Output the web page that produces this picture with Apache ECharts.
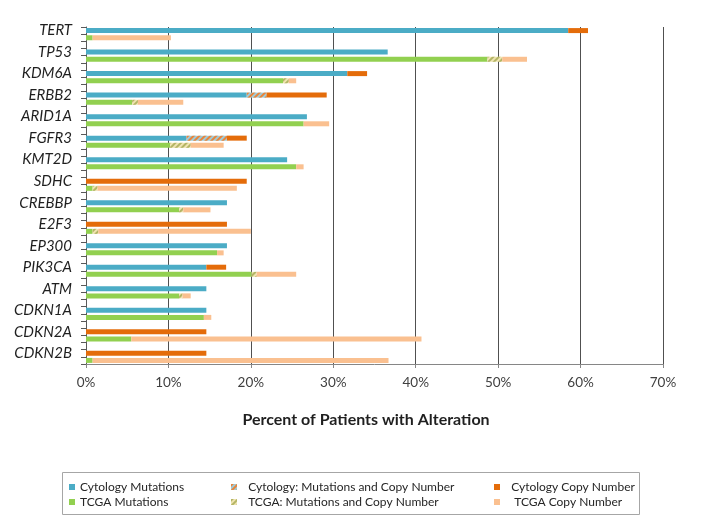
<!DOCTYPE html>
<html><head><meta charset="utf-8">
<script src="https://cdn.jsdelivr.net/npm/echarts@6/dist/echarts.min.js"></script>
<style>html,body{margin:0;padding:0;background:#fff}#c{width:702px;height:524px}</style>
</head><body><div id="c"></div>
<script>
// ---- data (percent of patients) ----
const genes = ['TERT','TP53','KDM6A','ERBB2','ARID1A','FGFR3','KMT2D','SDHC','CREBBP','E2F3','EP300','PIK3CA','ATM','CDKN1A','CDKN2A','CDKN2B'];
const cytoMutations   = [58.5, 36.6, 31.7, 19.5, 26.8, 12.2, 24.4, 0,    17.1, 0,    17.1, 14.6, 14.6, 14.6, 0,    0];
const cytoBoth        = [0,    0,    0,    2.4,  0,    4.9,  0,    0,    0,    0,    0,    0,    0,    0,    0,    0];
const cytoCopyNumber  = [2.4,  0,    2.4,  7.3,  0,    2.4,  0,    19.5, 0,    17.1, 0,    2.4,  0,    0,    14.6, 14.6];
const tcgaMutations   = [0.8,  48.7, 23.9, 5.6,  26.4, 10.2, 25.5, 0.8,  11.3, 0.8,  15.9, 20.1, 11.3, 14.3, 5.5,  0.8];
const tcgaBoth        = [0,    1.8,  0.7,  0.7,  0,    2.5,  0,    0.6,  0.5,  0.7,  0,    0.6,  0.4,  0,    0,    0];
const tcgaCopyNumber  = [9.5,  3.0,  0.9,  5.5,  3.1,  4.0,  0.9,  16.9, 3.3,  18.5, 0.8,  4.8,  1.0,  0.9,  35.2, 35.9];
const seriesNames = ['Cytology Mutations','TCGA Mutations','Cytology: Mutations and Copy Number','TCGA: Mutations and Copy Number','Cytology Copy Number','TCGA Copy Number'];
const xMin = 0, xMax = 70, xStep = 10;
const axisTitle = 'Percent of Patients with Alteration';

// ---- row layout: cytology row, TCGA row, spacer row per gene ----
const rows = [];
genes.forEach((g, i) => { rows.push(g + '|c'); rows.push(g + '|t'); if (i < genes.length - 1) rows.push(g + '|b'); });
function toRows(vals, offset) {
  const out = rows.map(() => '-');
  vals.forEach((v, i) => { out[3 * i + offset] = v; });
  return out;
}
const C = { blue:'#4bacc6', green:'#92d050', orange:'#e46c0a', peach:'#fac090' };
function stripes(col) {
  return { symbol:'rect', symbolSize:1, color:col, dashArrayX:[1,0], dashArrayY:[2,2], rotation:-Math.PI/4 };
}
function bar(name, data, color, decal) {
  const s = { name, type:'bar', stack:'all', barWidth:5, data, itemStyle:{ color }, emphasis:{ disabled:true }, silent:true };
  if (decal) s.itemStyle.decal = decal;
  return s;
}
const series = [
  bar(seriesNames[0], toRows(cytoMutations, 0), C.blue),
  bar(seriesNames[2], toRows(cytoBoth, 0), '#9fcbd6', stripes('#e9843a')),
  bar(seriesNames[4], toRows(cytoCopyNumber, 0), C.orange),
  bar(seriesNames[1], toRows(tcgaMutations, 1), C.green),
  bar(seriesNames[3], toRows(tcgaBoth, 1), '#efe3b0', stripes('#b3b565')),
  bar(seriesNames[5], toRows(tcgaCopyNumber, 1), C.peach)
];
function leg(name, left, top, prefix) {
  return { data:[name], left, top, orient:'vertical', icon:'rect', itemWidth:6, itemHeight:6, padding:0,
    selectedMode:false, formatter: (n) => (prefix || '') + n,
    textStyle:{ fontFamily:'Lato', fontSize:12, color:'#262626', lineHeight:14 } };
}
const chart = echarts.init(document.getElementById('c'), null, { renderer:'canvas' });
chart.setOption({
  animation:false,
  backgroundColor:'#fff',
  grid:{ left:86, right:39, top:27, bottom:160, containLabel:false },
  xAxis:{ type:'value', min:xMin, max:xMax, interval:xStep,
    axisLine:{ show:true, lineStyle:{ color:'#868686' } },
    axisTick:{ show:true, length:4, lineStyle:{ color:'#868686' } },
    splitLine:{ show:true, lineStyle:{ color:'#505050', width:1 } },
    axisLabel:{ formatter:'{value}%', fontFamily:'Lato', fontSize:13.5, color:'#404040', margin:12 } },
  yAxis:{ type:'category', inverse:true, data:rows,
    axisLine:{ show:true, lineStyle:{ color:'#595959' } },
    axisTick:{ show:true, interval:0, length:5, lineStyle:{ color:'#595959' } },
    axisLabel:{ interval:0, margin:14, fontFamily:'Lato', fontStyle:'italic', fontSize:15, color:'#1f1f1f',
      formatter:(v, i) => (i % 3 === 0 ? genes[i / 3] : '') } },
  legend:[
    leg(seriesNames[0], 69, 480), leg(seriesNames[1], 69, 495),
    leg(seriesNames[2], 231, 480, '  '), leg(seriesNames[3], 231, 495, '  '),
    leg(seriesNames[4], 494, 480, '  '), leg(seriesNames[5], 494, 495, '   ')
  ],
  graphic:[
    { type:'rect', shape:{ x:62.5, y:472.5, width:577, height:42 }, style:{ fill:'none', stroke:'#a6a6a6', lineWidth:1 }, silent:true },
    { type:'text', x:366, y:420, style:{ text:axisTitle, fontFamily:'Lato', fontWeight:'bold', fontSize:16, fill:'#1f1f1f', textAlign:'center', textVerticalAlign:'middle' }, silent:true }
  ],
  series
});
</script></body></html>
